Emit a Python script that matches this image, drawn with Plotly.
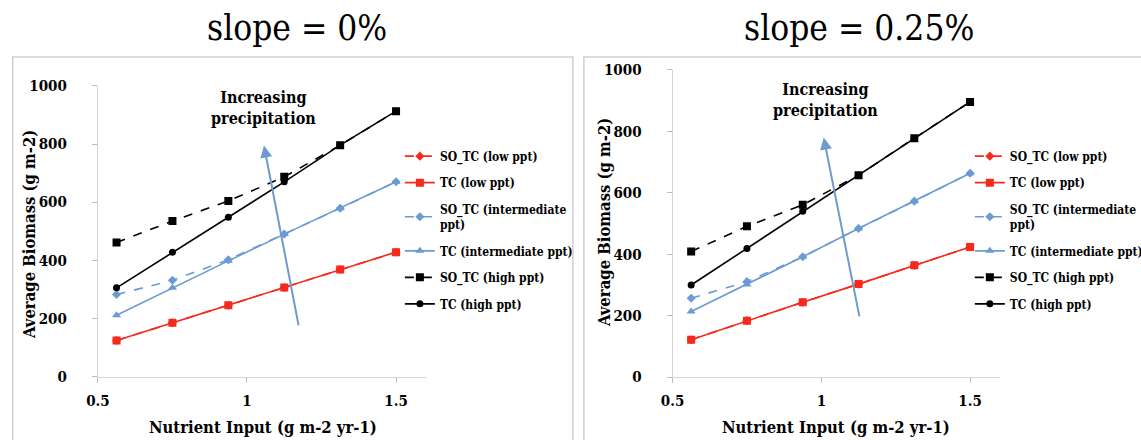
import plotly.graph_objects as go

# ---------------- data ----------------
nutrient_input = [0.5625, 0.75, 0.9375, 1.125, 1.3125, 1.5]

series_names = ["SO_TC (low ppt)", "TC (low ppt)", "SO_TC (intermediate<br>ppt)",
                "TC (intermediate ppt)", "SO_TC (high ppt)", "TC (high ppt)"]

# slope = 0%
so_low_0 = [124, 185, 245, 306, 368, 428]
tc_low_0 = [124, 185, 245, 306, 368, 428]
so_int_0 = [282, 331, 402, 490, 579, 670]
tc_int_0 = [211, 305, 398, 490, 579, 670]
so_high_0 = [461, 535, 604, 687, 796, 913]
tc_high_0 = [305, 428, 548, 670, 796, 913]

# slope = 0.25%
so_low_25 = [122, 184, 244, 303, 364, 424]
tc_low_25 = [122, 184, 244, 303, 364, 424]
so_int_25 = [257, 311, 392, 484, 573, 664]
tc_int_25 = [214, 302, 392, 484, 573, 664]
so_high_25 = [409, 491, 561, 657, 778, 896]
tc_high_25 = [300, 419, 540, 657, 778, 896]

panel_titles = ["slope = 0%", "slope = 0.25%"]
x_ticks = [0.5, 1, 1.5]
y_ticks = [0, 200, 400, 600, 800, 1000]

# ---------------- styles ----------------
RED = "#f52a1c"
BLUE = "#6a9bd3"
BLACK = "#000000"
SERIF = "DejaVu Serif Condensed, DejaVu Serif"

styles = [
    dict(color=RED, dash="dash", symbol="diamond", size=7),
    dict(color=RED, dash="solid", symbol="square", size=8),
    dict(color=BLUE, dash="dash", symbol="diamond", size=7),
    dict(color=BLUE, dash="solid", symbol="triangle-up", size=8),
    dict(color=BLACK, dash="dash", symbol="square", size=8),
    dict(color=BLACK, dash="solid", symbol="circle", size=7),
]

# page layout: body margin of 8 css px, and the captured page area is
# slightly larger than the final picture (measured scale factors)
OFF = 8
SX, SY = 0.987, 0.965
AX, AY = 2.2, 0.0
W, H = 1148, 454

def cx(p):
    """picture x pixel -> paper fraction"""
    return ((p - AX) / SX - OFF) / W

def cy(p):
    """picture y pixel -> paper fraction"""
    return 1 - ((p - AY) / SY - OFF) / H

fig = go.Figure()

panels = [
    dict(data=[so_low_0, tc_low_0, so_int_0, tc_int_0, so_high_0, tc_high_0],
         xa="x", ya="y", legend="legend"),
    dict(data=[so_low_25, tc_low_25, so_int_25, tc_int_25, so_high_25, tc_high_25],
         xa="x2", ya="y2", legend="legend2"),
]

for p in panels:
    for i, (name, vals, st) in enumerate(zip(series_names, p["data"], styles)):
        fig.add_trace(go.Scatter(
            x=nutrient_input, y=vals, name=name, mode="lines+markers",
            xaxis=p["xa"], yaxis=p["ya"], legend=p["legend"],
            legendgroup=p["legend"] + str(i),
            line=dict(color=st["color"], dash=st["dash"], width=1.6),
            marker=dict(color=st["color"], symbol=st["symbol"], size=st["size"]),
        ))

axis_common = dict(
    showgrid=False, zeroline=False, showline=True, linecolor="#d4d4d4", linewidth=1,
    ticks="outside", ticklen=5, tickcolor="#bdbdbd",
    tickfont=dict(family=SERIF, size=15, color="black", weight="bold"),
)

legend_font = dict(family=SERIF, size=12, color="black", weight="bold")

fig.update_layout(
    width=W, height=H, margin=dict(l=0, r=0, t=0, b=0),
    paper_bgcolor="white", plot_bgcolor="white", showlegend=True,
    font=dict(family=SERIF),
    xaxis=dict(domain=[cx(96), cx(424)], range=[0.5, 1.6], tickvals=x_ticks,
               anchor="y", ticklabelstandoff=5, **axis_common),
    yaxis=dict(domain=[cy(377), cy(85)], range=[0, 1000], tickvals=y_ticks,
               anchor="x", ticklabelstandoff=22, **axis_common),
    xaxis2=dict(domain=[cx(670.7), cx(998)], range=[0.5, 1.6], tickvals=x_ticks,
                anchor="y2", ticklabelstandoff=5, **axis_common),
    yaxis2=dict(domain=[cy(377.7), cy(69)], range=[0, 1000], tickvals=y_ticks,
                anchor="x2", ticklabelstandoff=22, **axis_common),
    legend=dict(x=cx(398), y=cy(141), xanchor="left", yanchor="top",
                bgcolor="rgba(0,0,0,0)", tracegroupgap=7.5, itemwidth=30,
                font=legend_font),
    legend2=dict(x=cx(968), y=cy(141), xanchor="left", yanchor="top",
                 bgcolor="rgba(0,0,0,0)", tracegroupgap=7.5, itemwidth=30,
                 font=legend_font),
)

# panel frames
fig.add_shape(type="rect", xref="paper", yref="paper", x0=0.0006, x1=cx(571),
              y0=-0.05, y1=cy(56), line=dict(color="#cfcfcf", width=1.5), layer="below")
fig.add_shape(type="rect", xref="paper", yref="paper", x0=cx(582), x1=1.05,
              y0=-0.05, y1=cy(56), line=dict(color="#cfcfcf", width=1.5), layer="below")

# titles
title_pos = [(295, 27), (857, 27)]
for t, (tx, ty) in zip(panel_titles, title_pos):
    fig.add_annotation(text=t, xref="paper", yref="paper", x=cx(tx), y=cy(ty),
                       showarrow=False, xanchor="center", yanchor="middle",
                       font=dict(family=SERIF, size=35, color="black"))

# axis titles
axis_font = dict(family=SERIF, size=16.5, color="black", weight="bold")
for xt in [261, 834]:
    fig.add_annotation(text="Nutrient Input (g m-2 yr-1)", xref="paper", yref="paper",
                       x=cx(xt), y=cy(428), showarrow=False, xanchor="center",
                       yanchor="middle", font=axis_font)
for (xt, yt) in [(27, 234), (602, 222)]:
    fig.add_annotation(text="Average Biomass (g m-2)", xref="paper", yref="paper",
                       x=cx(xt), y=cy(yt), showarrow=False, xanchor="center",
                       yanchor="middle", textangle=-90, font=axis_font)

# "Increasing precipitation" arrows and labels
arrow_specs = [
    dict(xr="x", yr="y", head=(1.057, 795), tail=(1.174, 171), label=(1.057, 923)),
    dict(xr="x2", yr="y2", head=(1.008, 780), tail=(1.129, 193), label=(1.015, 903)),
]
for a in arrow_specs:
    fig.add_annotation(xref=a["xr"], yref=a["yr"], axref=a["xr"], ayref=a["yr"],
                       x=a["head"][0], y=a["head"][1], ax=a["tail"][0], ay=a["tail"][1],
                       text="", showarrow=True, arrowhead=2, arrowsize=1.2,
                       arrowwidth=2, arrowcolor="#6f9bcc")
    fig.add_annotation(xref=a["xr"], yref=a["yr"], x=a["label"][0], y=a["label"][1],
                       text="Increasing<br>precipitation", showarrow=False,
                       xanchor="center", yanchor="middle",
                       font=dict(family=SERIF, size=16, color="black", weight="bold"))

fig.write_html("out.html")
